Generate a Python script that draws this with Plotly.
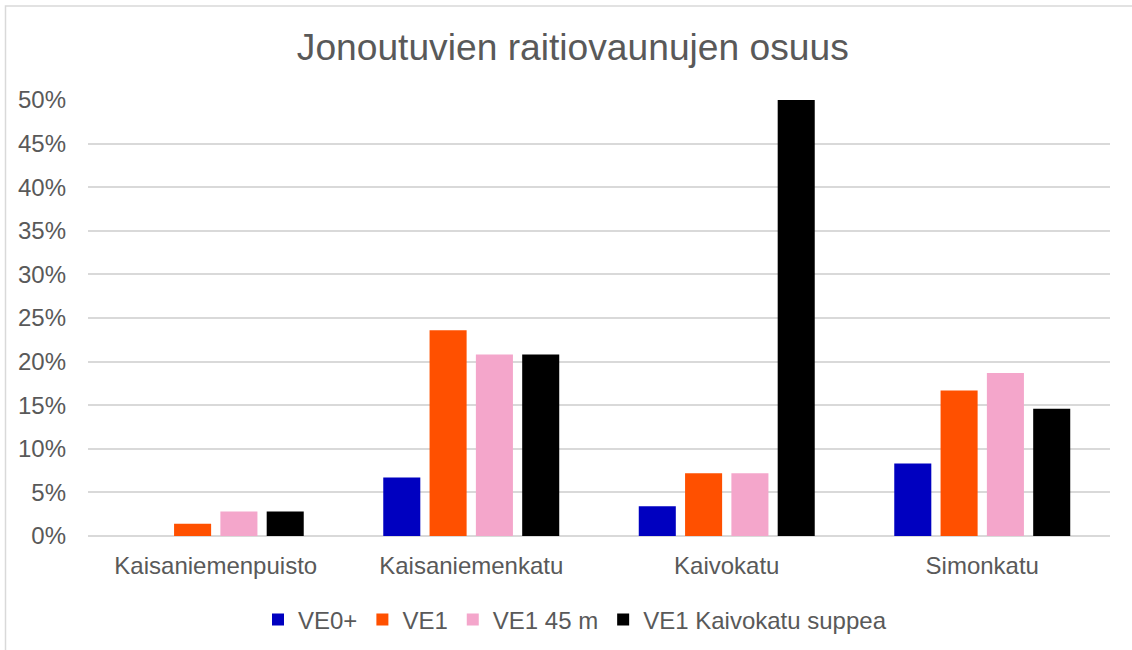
import plotly.graph_objects as go

categories = ["Kaisaniemenpuisto", "Kaisaniemenkatu", "Kaivokatu", "Simonkatu"]
series_names = ["VE0+", "VE1", "VE1 45 m", "VE1 Kaivokatu suppea"]
ve0_plus = [0.0, 6.7, 3.4, 8.3]
ve1 = [1.4, 23.6, 7.2, 16.7]
ve1_45m = [2.8, 20.8, 7.2, 18.7]
ve1_kaivokatu_suppea = [2.8, 20.8, 50.0, 14.6]
y_ticks = [0, 5, 10, 15, 20, 25, 30, 35, 40, 45, 50]
y_tick_labels = [f"{v}%" for v in y_ticks]

colors = ["#0000C0", "#FF5000", "#F4A6CB", "#000000"]
all_values = [ve0_plus, ve1, ve1_45m, ve1_kaivokatu_suppea]

FONT = "Liberation Sans, Arial, sans-serif"
GREY = "#595959"

fig = go.Figure()
for name, vals, col in zip(series_names, all_values, colors):
    fig.add_trace(go.Bar(name=name, x=categories, y=vals, marker_color=col,
                         marker_line_width=0))

fig.update_layout(
    width=1132, height=650,
    margin=dict(l=88, r=22, t=100, b=114, autoexpand=False),
    paper_bgcolor="white", plot_bgcolor="white",
    barmode="group", bargap=0.275, bargroupgap=0.2,
    font=dict(family=FONT, color=GREY, size=24),
    title=dict(text="Jonoutuvien raitiovaunujen osuus", x=0.506, xref="container",
               xanchor="center", y=1 - 47 / 650, yref="container", yanchor="middle",
               font=dict(size=37.2, color=GREY, family=FONT)),
    legend=dict(orientation="h", x=575 / 1132, xref="container", xanchor="center",
                y=1 - 620 / 650, yref="container", yanchor="middle",
                font=dict(size=24, color=GREY, family=FONT), itemwidth=30,
                bgcolor="rgba(0,0,0,0)"),
    xaxis=dict(showgrid=False, showline=False, ticks="", tickfont=dict(size=24, color=GREY),
               ticklabelstandoff=13, automargin=False),
    yaxis=dict(range=[0, 50], tickvals=y_ticks, ticktext=y_tick_labels,
               showgrid=True, gridcolor="#D9D9D9", gridwidth=1.5,
               zeroline=True, zerolinecolor="#D9D9D9", zerolinewidth=1.5,
               showline=False, ticks="", tickfont=dict(size=24, color=GREY),
               ticklabelstandoff=21, automargin=False),
)

# Chart-area border (as in the original spreadsheet chart)
fig.add_shape(type="rect", xref="paper", yref="paper",
              x0=(5.5 - 88) / 1022, x1=1.06, y0=-0.35, y1=(536 - 6) / 436,
              line=dict(color="#D9D9D9", width=1.5), fillcolor="rgba(0,0,0,0)", layer="below")

fig.write_html("out.html", config={"displayModeBar": False},
               post_script="document.body.style.margin='0';document.body.style.overflow='hidden';")
